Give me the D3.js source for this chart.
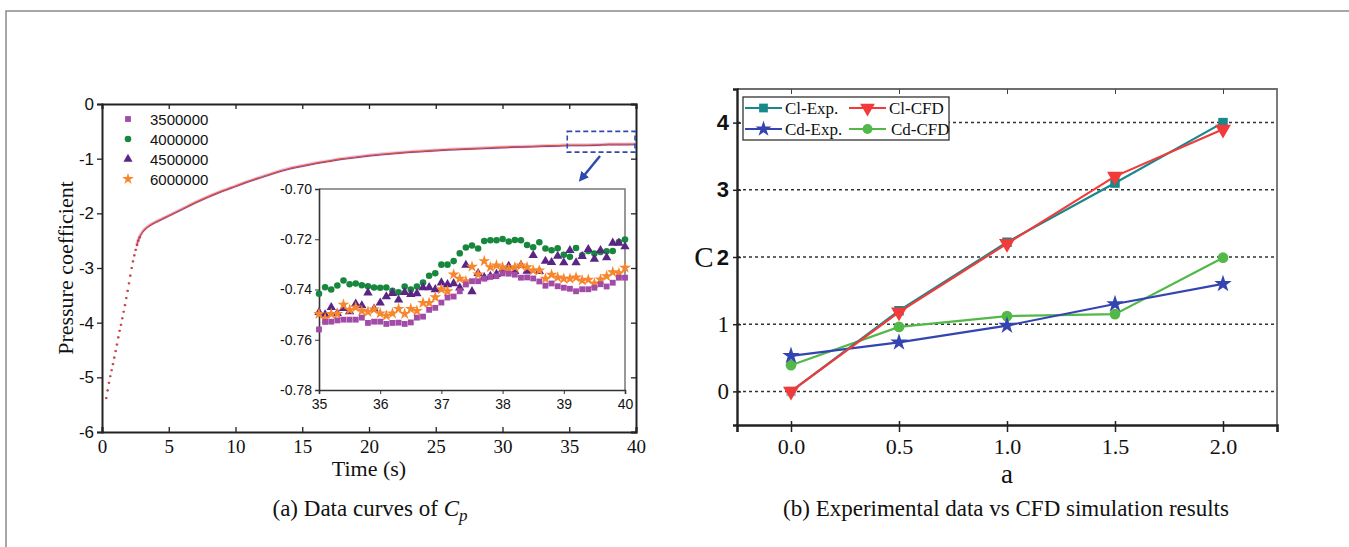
<!DOCTYPE html>
<html><head><meta charset="utf-8">
<script src="https://cdn.jsdelivr.net/npm/d3@7"></script>
<style>html,body{margin:0;padding:0;background:#fff;}svg{display:block;}</style>
</head><body>
<svg id="chart" width="1349" height="547"></svg>
<script>
// ---------------- DATA ----------------
// (a) main curve of Cp vs time
const mainTime = [0.3,0.4,0.5,0.6,0.7,0.8,0.9,1.0,1.1,1.2,1.3,1.4,1.5,1.6,1.7,1.8,1.9,2.0,2.1,2.2,2.3,2.4,2.5,2.6,2.7,2.8,2.9,3.0,3.25,3.5,4,4.5,5,6,7,8,9,10,11,12,13,14,15,16,17,18,19,20,21,22,23,24,25,26,27,28,29,30,31,32,33,34,35,36,37,38,39,40];
const mainCp = [-5.38,-5.24,-5.10,-4.98,-4.87,-4.76,-4.64,-4.52,-4.40,-4.27,-4.15,-4.04,-3.92,-3.80,-3.68,-3.55,-3.42,-3.28,-3.14,-3.00,-2.88,-2.77,-2.67,-2.58,-2.50,-2.44,-2.39,-2.35,-2.28,-2.23,-2.16,-2.10,-2.04,-1.92,-1.80,-1.69,-1.59,-1.50,-1.41,-1.33,-1.25,-1.18,-1.13,-1.08,-1.04,-1.00,-0.97,-0.94,-0.915,-0.895,-0.875,-0.86,-0.845,-0.83,-0.82,-0.81,-0.80,-0.79,-0.78,-0.775,-0.765,-0.76,-0.75,-0.75,-0.745,-0.735,-0.735,-0.732];
const mainXTicks = [0,5,10,15,20,25,30,35,40];
const mainYTicks = [0,-1,-2,-3,-4,-5,-6];

// (a) inset: 35..40 s
const insetTime = [35.0,35.1,35.2,35.3,35.4,35.5,35.6,35.7,35.8,35.9,36.0,36.1,36.2,36.3,36.4,36.5,36.6,36.7,36.8,36.9,37.0,37.1,37.2,37.3,37.4,37.5,37.6,37.7,37.8,37.9,38.0,38.1,38.2,38.3,38.4,38.5,38.6,38.7,38.8,38.9,39.0,39.1,39.2,39.3,39.4,39.5,39.6,39.7,39.8,39.9,40.0];
const cp3500000 = [-0.7559,-0.7529,-0.7528,-0.7523,-0.752,-0.752,-0.752,-0.7512,-0.7533,-0.7528,-0.7528,-0.7537,-0.7533,-0.7532,-0.7537,-0.7531,-0.7512,-0.7508,-0.7481,-0.7473,-0.7452,-0.7432,-0.7428,-0.7407,-0.738,-0.7367,-0.7367,-0.7357,-0.735,-0.7347,-0.7336,-0.7337,-0.7341,-0.7353,-0.7352,-0.7356,-0.7368,-0.7385,-0.7376,-0.7387,-0.7393,-0.7397,-0.7407,-0.7399,-0.7399,-0.7393,-0.7379,-0.7388,-0.7373,-0.7353,-0.7353];
const cp4000000 = [-0.7417,-0.7391,-0.740,-0.7384,-0.7364,-0.7379,-0.7376,-0.7383,-0.7387,-0.7392,-0.7393,-0.7392,-0.7405,-0.7411,-0.7388,-0.740,-0.7388,-0.7372,-0.7345,-0.7335,-0.7301,-0.7301,-0.7287,-0.7256,-0.7233,-0.7225,-0.7237,-0.7207,-0.7204,-0.7204,-0.7199,-0.7209,-0.7203,-0.7204,-0.7223,-0.7232,-0.7212,-0.7237,-0.7244,-0.7236,-0.7262,-0.7270,-0.7235,-0.7264,-0.7247,-0.7257,-0.7251,-0.7248,-0.7247,-0.7211,-0.7201];
const cp4500000 = [-0.7491,-0.750,-0.7471,-0.7495,-0.7475,-0.7488,-0.7457,-0.7464,-0.7413,-0.7477,-0.7453,-0.7428,-0.7415,-0.7441,-0.7411,-0.7419,-0.7416,-0.7392,-0.7392,-0.740,-0.7373,-0.738,-0.7376,-0.7393,-0.7303,-0.7408,-0.7336,-0.7352,-0.7347,-0.7339,-0.7321,-0.7307,-0.7328,-0.7304,-0.7327,-0.7264,-0.7328,-0.7287,-0.7292,-0.7267,-0.7293,-0.7244,-0.7293,-0.7268,-0.724,-0.7279,-0.7244,-0.7273,-0.7215,-0.7215,-0.7229];
const cp6000000 = [-0.7497,-0.7515,-0.7497,-0.7497,-0.746,-0.7481,-0.7471,-0.7485,-0.7489,-0.7479,-0.7495,-0.7504,-0.7495,-0.7477,-0.7497,-0.7477,-0.7485,-0.7453,-0.7453,-0.7431,-0.7399,-0.7407,-0.734,-0.7357,-0.7367,-0.7309,-0.734,-0.7287,-0.7311,-0.7304,-0.7311,-0.7319,-0.7311,-0.7304,-0.7311,-0.7324,-0.7324,-0.7357,-0.7341,-0.7352,-0.7357,-0.7357,-0.7352,-0.7364,-0.7361,-0.7376,-0.736,-0.7347,-0.7331,-0.7335,-0.7313];
const insetXTicks = [35,36,37,38,39,40];
const insetYTicks = [-0.70,-0.72,-0.74,-0.76,-0.78];
const seriesNamesA = ["3500000","4000000","4500000","6000000"];

// (b) experimental vs CFD
const aValues = [0.0,0.5,1.0,1.5,2.0];
const clExp = [0.0,1.2,2.22,3.1,4.0];
const clCfd = [0.0,1.18,2.2,3.2,3.9];
const cdExp = [0.53,0.73,0.98,1.3,1.6];
const cdCfd = [0.39,0.96,1.12,1.15,1.99];
const seriesNamesB = ["Cl-Exp.","Cl-CFD","Cd-Exp.","Cd-CFD"];
const bYTicks = [0,1,2,3,4];

// ---------------- DRAW ----------------
const SERIF = '"Liberation Serif","Times New Roman",serif';
const SANS = '"Liberation Sans",Arial,sans-serif';
const svg = d3.select("#chart");

// outer frame lines
svg.append("path").attr("d","M6,547 V11 H1349").attr("fill","none").attr("stroke","#8a8a8a").attr("stroke-width",1.5);

// ===== (a) =====
const xL = d3.scaleLinear().domain([0,40]).range([102,636]);
const yL = d3.scaleLinear().domain([-6,0]).range([432,104]);
const gA = svg.append("g");

const axB = gA.append("g").attr("transform",`translate(0,${yL(-6)})`)
  .call(d3.axisBottom(xL).tickValues(mainXTicks).tickSize(-5).tickPadding(8).tickFormat(d3.format("d")));
const axT = gA.append("g").attr("transform",`translate(0,${yL(0)})`)
  .call(d3.axisTop(xL).tickValues(mainXTicks).tickSize(-5).tickFormat(""));
const axLft = gA.append("g").attr("transform",`translate(${xL(0)},0)`)
  .call(d3.axisLeft(yL).tickValues(mainYTicks).tickSize(5).tickPadding(3).tickFormat(d=>d3.format("d")(d).replace("−","-")));
const axR = gA.append("g").attr("transform",`translate(${xL(40)},0)`)
  .call(d3.axisRight(yL).tickValues(mainYTicks).tickSize(-5).tickFormat(""));
[axB,axT,axLft,axR].forEach(a=>{a.select(".domain").attr("stroke","#222").attr("stroke-width",2);a.selectAll(".tick line").attr("stroke","#222").attr("stroke-width",1.3);});
axB.selectAll("text").attr("font-family",SERIF).attr("font-size",19).attr("fill","#111");
axLft.selectAll("text").attr("font-family",SANS).attr("font-size",17).attr("fill","#111");

// main curve
const mainPts = mainTime.map((t,i)=>[t,mainCp[i]]);
const steep = mainPts.filter(d=>d[0]<=2.8);
const smooth = mainPts.filter(d=>d[0]>=2.6);
const line = d3.line().x(d=>xL(d[0])).y(d=>yL(d[1])).curve(d3.curveMonotoneX);
gA.append("path").attr("d",line(smooth)).attr("fill","none").attr("stroke","#d49ad8").attr("stroke-width",3.4).attr("opacity",0.55);
gA.append("path").attr("d",line(smooth)).attr("fill","none").attr("stroke","#6a3a9a").attr("stroke-width",1.0).attr("transform","translate(0,0.7)");
gA.append("path").attr("d",line(smooth)).attr("fill","none").attr("stroke","#e2502a").attr("stroke-width",1.2);
gA.selectAll(".sdp").data(steep).join("circle").attr("cx",d=>xL(d[0])+0.6).attr("cy",d=>yL(d[1])).attr("r",1.1).attr("fill","#7a3f9c").attr("opacity",0.8);
gA.selectAll(".sd").data(steep).join("circle").attr("cx",d=>xL(d[0])).attr("cy",d=>yL(d[1])).attr("r",1.1).attr("fill","#e0402a");

// axis titles
gA.append("text").attr("transform",`translate(73,${(yL(-6)+yL(0))/2}) rotate(-90)`).attr("text-anchor","middle")
  .attr("font-family",SERIF).attr("font-size",22).attr("fill","#111").text("Pressure coefficient");
gA.append("text").attr("x",(xL(0)+xL(40))/2).attr("y",476).attr("text-anchor","middle")
  .attr("font-family",SERIF).attr("font-size",22).attr("fill","#111").text("Time (s)");

// legend (a)
const symA = [d3.symbolSquare,d3.symbolCircle,d3.symbolTriangle,d3.symbolStar];
const colA = ["#a34ba8","#17873d","#5a2585","#f7862c"];
const lgA = gA.append("g");
seriesNamesA.forEach((n,i)=>{
  const y = 119 + i*20;
  lgA.append("path").attr("d",d3.symbol(symA[i], i===3?42:(i===2?36:34))()).attr("transform",`translate(128,${y})`).attr("fill",colA[i]);
  lgA.append("text").attr("x",150).attr("y",y+5.5).attr("font-family",SANS).attr("font-size",15).attr("fill","#111").text(n);
});

// zoom box and arrow
const boxX0 = 35, boxX1 = 40, boxY0 = -0.5, boxY1 = -0.88;
gA.append("rect").attr("x",xL(boxX0)-2).attr("y",yL(boxY0)).attr("width",xL(boxX1)-xL(boxX0)+1).attr("height",yL(boxY1)-yL(boxY0))
  .attr("fill","none").attr("stroke","#3548b0").attr("stroke-width",1.6).attr("stroke-dasharray","5,3");
svg.append("defs").append("marker").attr("id","arr").attr("viewBox","0 0 10 10").attr("refX",5).attr("refY",5)
  .attr("markerWidth",4).attr("markerHeight",4).attr("orient","auto")
  .append("path").attr("d","M0,0 L10,5 L0,10 z").attr("fill","#2f4aae");
gA.append("line").attr("x1",600).attr("y1",156).attr("x2",582).attr("y2",178).attr("stroke","#2f4aae").attr("stroke-width",2.5).attr("marker-end","url(#arr)");

// inset
const xI = d3.scaleLinear().domain([35,40]).range([319,625]);
const yI = d3.scaleLinear().domain([-0.78,-0.70]).range([390,189]);
const gI = gA.append("g");
gI.append("rect").attr("x",xI(35)).attr("y",yI(-0.70)).attr("width",xI(40)-xI(35)).attr("height",yI(-0.78)-yI(-0.70)).attr("fill","#fff");
gI.append("path").attr("d",`M${xI(35)},${yI(-0.70)} H${xI(40)} V${yI(-0.78)}`).attr("fill","none").attr("stroke","#777").attr("stroke-width",1.5);
const iB = gI.append("g").attr("transform",`translate(0,${yI(-0.78)})`)
  .call(d3.axisBottom(xI).tickValues(insetXTicks).tickSize(4).tickPadding(5).tickFormat(d3.format("d")));
const iL = gI.append("g").attr("transform",`translate(${xI(35)},0)`)
  .call(d3.axisLeft(yI).tickValues(insetYTicks).tickSize(4).tickPadding(3).tickFormat(d=>d3.format(".2f")(d).replace("−","-")));
[iB,iL].forEach(a=>{a.select(".domain").attr("stroke","#333").attr("stroke-width",1.6);a.selectAll(".tick line").attr("stroke","#333");a.selectAll("text").attr("font-family",SANS).attr("font-size",14).attr("fill","#111");});

const insetSeries = [cp3500000,cp4000000,cp4500000,cp6000000];
const sizeI = [34,34,38,44];
const drawOrder = [1,2,3,0];
drawOrder.forEach(si=>{
  gI.append("g").selectAll("path").data(insetTime.map((t,i)=>[t,insetSeries[si][i]])).join("path")
    .attr("d",d3.symbol(symA[si],sizeI[si])()).attr("transform",d=>`translate(${xI(d[0])},${yI(d[1])})`).attr("fill",colA[si]);
});

// caption a
const capA = svg.append("text").attr("x",370).attr("y",516).attr("text-anchor","middle").attr("font-family",SERIF).attr("font-size",23).attr("fill","#111");
capA.append("tspan").text("(a) Data curves of  ");
capA.append("tspan").attr("font-style","italic").text("C");
capA.append("tspan").attr("font-style","italic").attr("font-size",17).attr("dy",5).text("p");

// ===== (b) =====
const xR = d3.scaleLinear().domain([-0.25,2.25]).range([737,1277]);
const yR = d3.scaleLinear().domain([-0.5,4.5]).range([425,89]);
const gB = svg.append("g");

gB.selectAll(".grid").data(bYTicks).join("line").attr("x1",xR(-0.25)).attr("x2",xR(2.25)).attr("y1",d=>yR(d)).attr("y2",d=>yR(d))
  .attr("stroke","#333").attr("stroke-width",1.5).attr("stroke-dasharray","3,3");
gB.append("path").attr("d",`M${xR(-0.25)},${yR(4.5)} H${xR(2.25)} V${yR(-0.5)}`).attr("fill","none").attr("stroke","#6b6f70").attr("stroke-width",1.8);
const bT = gB.append("g").attr("transform",`translate(0,${yR(4.5)})`).call(d3.axisTop(xR).tickValues(aValues).tickSize(-5).tickFormat(""));
bT.select(".domain").remove(); bT.selectAll(".tick line").attr("stroke","#444");
const bB = gB.append("g").attr("transform",`translate(0,${yR(-0.5)})`).call(d3.axisBottom(xR).tickValues(aValues).tickSize(7).tickPadding(6).tickFormat(d3.format(".1f")));
bB.select(".domain").attr("stroke","#222").attr("stroke-width",2.6);
bB.selectAll(".tick line").attr("stroke","#222").attr("stroke-width",1.5).attr("y1",-4);
bB.selectAll("text").attr("font-family",SERIF).attr("font-size",22).attr("fill","#111");
const bL = gB.append("g").attr("transform",`translate(${xR(-0.25)},0)`).call(d3.axisLeft(yR).tickValues(bYTicks).tickSize(4).tickPadding(4).tickFormat(d3.format("d")));
bL.select(".domain").attr("stroke","#222").attr("stroke-width",2.4);
bL.selectAll(".tick line").attr("stroke","#222").attr("stroke-width",1.5).attr("x2",-4).attr("x1",4);
bL.selectAll("text").attr("fill","#111")
  .attr("font-family",d=>d>=2?SANS:SERIF).attr("font-weight",d=>d>=2?"bold":"normal").attr("font-size",d=>d>=2?22:23);

gB.append("text").attr("x",(xR(-0.25)+xR(2.25))/2).attr("y",483).attr("text-anchor","middle").attr("font-family",SERIF).attr("font-size",27).attr("fill","#111").text("a");
gB.append("text").attr("x",704).attr("y",267).attr("text-anchor","middle").attr("font-family",SERIF).attr("font-size",29).attr("fill","#111").text("C");

// series
const seriesB = [clExp,clCfd,cdExp,cdCfd];
const colB = ["#18898a","#f23a3a","#3444b0","#52b848"];
const symDown = {draw(ctx,size){const h=Math.sqrt(size*4/Math.sqrt(3));const r=h/Math.sqrt(3);ctx.moveTo(0,r);ctx.lineTo(h/2,-r*0.5);ctx.lineTo(-h/2,-r*0.5);ctx.closePath();}};
const symB = [d3.symbolSquare,symDown,d3.symbolStar,d3.symbolCircle];
const sizeB = [90,110,95,90];
const lineB = d3.line().x(d=>xR(d[0])).y(d=>yR(d[1]));
const orderB = [3,2,0,1];
orderB.forEach(si=>{
  const pts = aValues.map((a,i)=>[a,seriesB[si][i]]);
  gB.append("path").attr("d",lineB(pts)).attr("fill","none").attr("stroke",colB[si]).attr("stroke-width",2.2);
  gB.append("g").selectAll("path").data(pts).join("path").attr("d",d3.symbol(symB[si],sizeB[si])())
    .attr("transform",d=>`translate(${xR(d[0])},${yR(d[1])})`).attr("fill",(d,i)=>(si===0&&i===0)?"#7fd0d8":colB[si]);
});

// legend (b)
const lgB = gB.append("g");
lgB.append("rect").attr("x",743).attr("y",97).attr("width",206).attr("height",43).attr("fill","#fff").attr("stroke","#333").attr("stroke-width",1.3);
const legPos = [[745,108],[849,108],[745,129],[849,129]];
seriesNamesB.forEach((n,i)=>{
  const [lx,ly] = legPos[i];
  lgB.append("line").attr("x1",lx).attr("x2",lx+37).attr("y1",ly).attr("y2",ly).attr("stroke",colB[i]).attr("stroke-width",2);
  lgB.append("path").attr("d",d3.symbol(symB[i],sizeB[i]*0.85)()).attr("transform",`translate(${lx+18.5},${ly})`).attr("fill",colB[i]);
  lgB.append("text").attr("x",lx+(i===3?42:40)).attr("y",ly+5.5).attr("font-family",SERIF).attr("font-size",17).attr("fill","#111").text(n);
});

// caption b
svg.append("text").attr("x",1006).attr("y",516).attr("text-anchor","middle").attr("font-family",SERIF).attr("font-size",23).attr("fill","#111")
  .text("(b) Experimental data vs CFD simulation results");
</script>
</body></html>
